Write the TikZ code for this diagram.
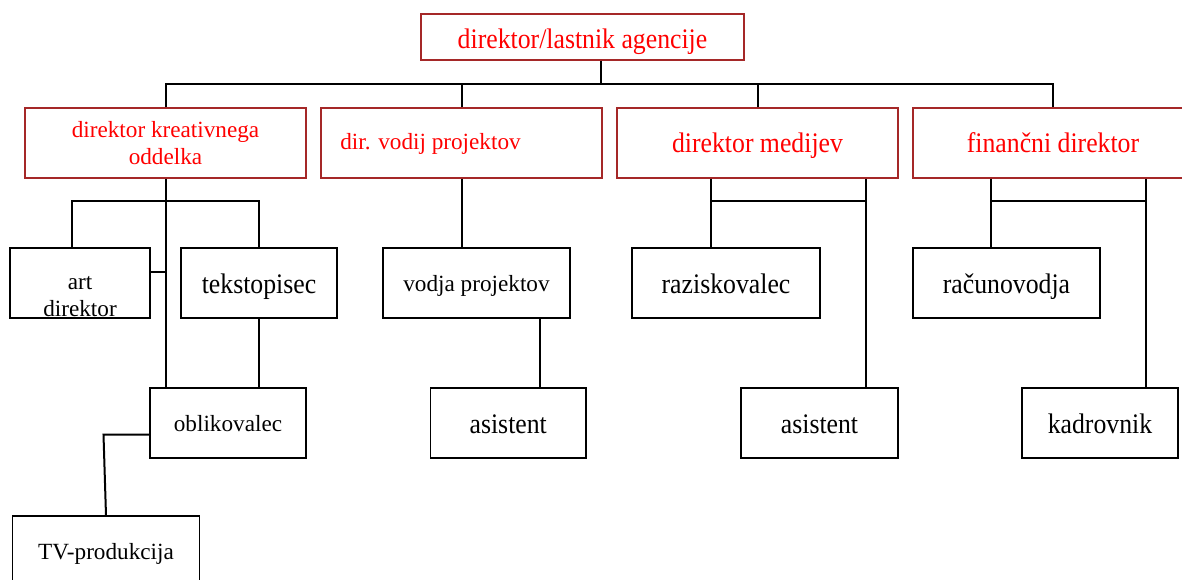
\documentclass[tikz,border=0pt]{standalone}
\usepackage{fontspec}
\setmainfont{Liberation Serif}
\newfontfamily\tallserif[FakeStretch=0.91]{Liberation Serif}
\definecolor{boxred}{RGB}{165,40,40}
\tikzset{
  big/.style={font=\tallserif\fontsize{28.3}{31}\selectfont, text height=20pt, text depth=0pt},
  small/.style={font=\fontsize{23.2}{27}\selectfont},
  smallone/.style={small, text height=17.4pt, text depth=0pt},
  rbox/.style={draw=boxred, line width=1.2pt, text=red, inner sep=0pt},
  kbox/.style={draw=black, line width=1.2pt, text=black, inner sep=0pt},
  lvl/.style={minimum height=70pt},
  conn/.style={draw=black, line width=2pt},
}
\begin{document}
\begin{tikzpicture}[x=1pt,y=-1pt]
\clip (0,0) rectangle (1182,580);
\fill[white] (0,0) rectangle (1182,580);
% top
\node[rbox, big, text height=24pt, minimum width=323pt, minimum height=46pt] (top) at (582.5,37) {direktor/lastnik agencije};
% level 2
\node[rbox, small, lvl, align=center, minimum width=281pt] (kre) at (165.5,143) {direktor kreativnega\\oddelka};
\node[rbox, smallone, text height=14pt, lvl, minimum width=281pt] (vod) at (461.5,143) {dir. vodij projektov\hspace*{62pt}};
\node[rbox, big, lvl, minimum width=281pt] (med) at (757.5,143) {direktor medijev};
\node[rbox, big, lvl, minimum width=280pt] (fin) at (1053,143) {finančni direktor};
% level 3
\node[kbox, lvl, minimum width=140pt,
  label={[small, align=center, name=artt, yshift=-14pt]center:art\\direktor}] (art) at (80,283) {};
\node[kbox, big, lvl, minimum width=156pt] (tek) at (259,283) {tekstopisec};
\node[kbox, smallone, lvl, minimum width=187pt] (vja) at (476.5,283) {vodja projektov};
\node[kbox, big, lvl, minimum width=188pt] (raz) at (726,283) {raziskovalec};
\node[kbox, big, lvl, minimum width=187pt] (rac) at (1006.5,283) {računovodja};
% level 4
\node[kbox, smallone, lvl, minimum width=156pt] (obl) at (228,423) {oblikovalec};
\node[kbox, big, lvl, minimum width=155.5pt] (as1) at (508.25,423) {asistent};
\node[kbox, big, lvl, minimum width=157pt] (as2) at (819.5,423) {asistent};
\node[kbox, big, lvl, minimum width=156pt] (kad) at (1100,423) {kadrovnik};
% level 5
\node[kbox, smallone, lvl, minimum width=186.4pt] (tv) at (106,551) {TV-produkcija};
% connectors: top bus
\coordinate (bus) at (601,84);
\draw[conn] (top.south -| bus) -- (bus);
\draw[conn] (kre.north) -- (kre.north |- bus) -- (fin.north |- bus) -- (fin.north);
\draw[conn] (vod.north) -- (vod.north |- bus);
\draw[conn] (med.north) -- (med.north |- bus);
% creative department
\coordinate (kL) at (72,201);
\draw[conn] (kre.south) -- (obl.north -| kre.south);
\draw[conn] (art.north -| kL) -- (kL) -- (tek.north |- kL) -- (tek.north);
\draw[conn] ([yshift=11pt]art.east) -- ([yshift=11pt]art.east -| kre.south);
\draw[conn] (tek.south) -- (tek.south |- obl.north);
\coordinate (tvc) at (103.5,434.5);
\draw[conn] (obl.west |- tvc) -- (tvc) -- (tv.north);
% project managers
\coordinate (vx) at (540,0);
\draw[conn] (vod.south) -- (vod.south |- vja.north);
\draw[conn] (vja.south -| vx) -- (as1.north -| vx);
% media
\coordinate (mL) at (711,201);
\coordinate (mR) at (866,201);
\draw[conn] (med.south -| mL) -- (raz.north -| mL);
\draw[conn] (med.south -| mR) -- (as2.north -| mR);
\draw[conn] (mL) -- (mR);
% finance
\coordinate (fL) at (991,201);
\coordinate (fR) at (1146,201);
\draw[conn] (fin.south -| fL) -- (rac.north -| fL);
\draw[conn] (fin.south -| fR) -- (kad.north -| fR);
\draw[conn] (fL) -- (fR);
\end{tikzpicture}
\end{document}
